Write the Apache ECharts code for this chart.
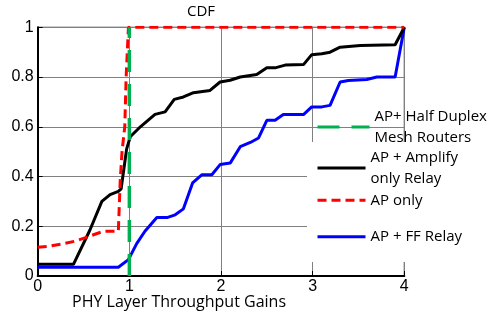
<!DOCTYPE html>
<html>
<head>
<meta charset="utf-8">
<script src="https://cdn.jsdelivr.net/npm/echarts@6/dist/echarts.min.js"></script>
<style>
  html, body { margin: 0; padding: 0; background: #fff; }
  #chart { width: 491px; height: 316px; }
</style>
</head>
<body>
<div id="chart"></div>
<script>
// CDF curves
const meshX = [1, 1];
const meshY = [0, 1];

const ampX = [0, 0.39, 0.57, 0.70, 0.79, 0.88, 0.91, 0.97, 1.01, 1.12, 1.28, 1.39, 1.49, 1.59, 1.70, 1.88, 1.99, 2.10, 2.21, 2.39, 2.50, 2.59, 2.70, 2.90, 2.99, 3.10, 3.19, 3.30, 3.52, 3.90, 4.0];
const ampY = [0.047, 0.047, 0.185, 0.30, 0.327, 0.34, 0.35, 0.51, 0.56, 0.60, 0.65, 0.66, 0.71, 0.72, 0.737, 0.746, 0.78, 0.787, 0.80, 0.81, 0.837, 0.837, 0.848, 0.85, 0.89, 0.894, 0.90, 0.92, 0.927, 0.93, 1.0];

const apX = [0, 0.13, 0.28, 0.41, 0.53, 0.64, 0.72, 0.88, 0.90, 0.92, 0.95, 0.965, 0.99, 4.0];
const apY = [0.116, 0.12, 0.13, 0.14, 0.155, 0.17, 0.18, 0.18, 0.38, 0.50, 0.60, 0.80, 1.0, 1.0];

const ffX = [0, 0.88, 0.99, 1.08, 1.17, 1.30, 1.41, 1.50, 1.59, 1.69, 1.79, 1.90, 1.99, 2.10, 2.21, 2.32, 2.41, 2.50, 2.59, 2.68, 2.90, 2.99, 3.10, 3.19, 3.30, 3.39, 3.59, 3.70, 3.90, 4.0];
const ffY = [0.035, 0.035, 0.066, 0.13, 0.18, 0.235, 0.235, 0.246, 0.27, 0.374, 0.407, 0.407, 0.448, 0.454, 0.52, 0.537, 0.555, 0.626, 0.626, 0.649, 0.649, 0.68, 0.68, 0.686, 0.78, 0.786, 0.79, 0.80, 0.80, 1.0];

const names = {
  mesh: 'AP+ Half Duplex Mesh Routers',
  amp: 'AP + Amplify only Relay',
  ap: 'AP only',
  ff: 'AP + FF Relay'
};
const legendText = {
  [names.mesh]: 'AP+ Half Duplex\nMesh Routers',
  [names.amp]: 'AP + Amplify\nonly Relay',
  [names.ap]: 'AP only',
  [names.ff]: 'AP + FF Relay'
};

const zip = (xs, ys) => xs.map((x, i) => [x, ys[i]]);
const textFont = '"Open Sans", Lato, sans-serif';
const tickFont = '"Liberation Sans", Arial, sans-serif';

const lineSeries = (name, xs, ys, color, type, width, z) => ({
  name,
  type: 'line',
  data: zip(xs, ys),
  showSymbol: false,
  symbol: 'none',
  silent: true,
  z,
  lineStyle: { color, type, width },
  itemStyle: { color }
});

const legendItem = (name, top, itemWidth) => ({
  data: [name],
  left: 316,
  top,
  padding: 0,
  itemWidth,
  itemHeight: 14,
  selectedMode: false,
  z: 20,
  itemStyle: { opacity: 0 },
  lineStyle: { width: 3 },
  formatter: n => legendText[n],
  textStyle: { fontFamily: textFont, fontSize: 15, lineHeight: 20.5, color: '#000' }
});

const chart = echarts.init(document.getElementById('chart'));
chart.setOption({
  animation: false,
  backgroundColor: '#fff',
  title: [
    { text: 'CDF', left: 201, top: 4, textAlign: 'center', padding: 0,
      textStyle: { fontFamily: textFont, fontSize: 15, fontWeight: 'normal', color: '#000' } },
    { text: 'PHY Layer Throughput Gains', left: 72, top: 294, padding: 0,
      textStyle: { fontFamily: textFont, fontSize: 16, fontWeight: 'normal', color: '#000' } }
  ],
  grid: { left: 37.7, right: 86.7, top: 27.3, bottom: 40, show: true, borderColor: '#000', borderWidth: 1 },
  xAxis: {
    type: 'value', min: 0, max: 4, interval: 1,
    axisLine: { lineStyle: { color: '#000', width: 2 } },
    axisTick: { inside: true, length: 5, lineStyle: { color: '#000' } },
    axisLabel: { fontFamily: tickFont, fontSize: 16, color: '#000', margin: 3 },
    splitLine: { show: true, lineStyle: { color: '#808080', width: 1 } }
  },
  yAxis: {
    type: 'value', min: 0, max: 1, interval: 0.2,
    axisLine: { show: true, lineStyle: { color: '#000', width: 2 } },
    axisTick: { show: true, inside: true, length: 5, lineStyle: { color: '#000' } },
    axisLabel: { fontFamily: tickFont, fontSize: 16, color: '#000', margin: 4 },
    splitLine: { show: true, lineStyle: { color: '#808080', width: 1 } }
  },
  graphic: [
    { type: 'rect', left: 307, top: 142, z: 10, silent: true,
      shape: { width: 184, height: 120 }, style: { fill: '#fff' } }
  ],
  legend: [
    legendItem(names.mesh, 106.5, 52),
    legendItem(names.amp, 147.5, 48),
    legendItem(names.ap, 190, 48),
    legendItem(names.ff, 226.5, 48)
  ],
  series: [
    lineSeries(names.ff, ffX, ffY, '#0000ff', 'solid', 3, 3),
    lineSeries(names.amp, ampX, ampY, '#000000', 'solid', 3, 4),
    lineSeries(names.ap, apX, apY, '#ff0000', [9, 5], 3, 5),
    lineSeries(names.mesh, meshX, meshY, '#00b050', [22, 12], 3.5, 6)
  ]
});
</script>
</body>
</html>
